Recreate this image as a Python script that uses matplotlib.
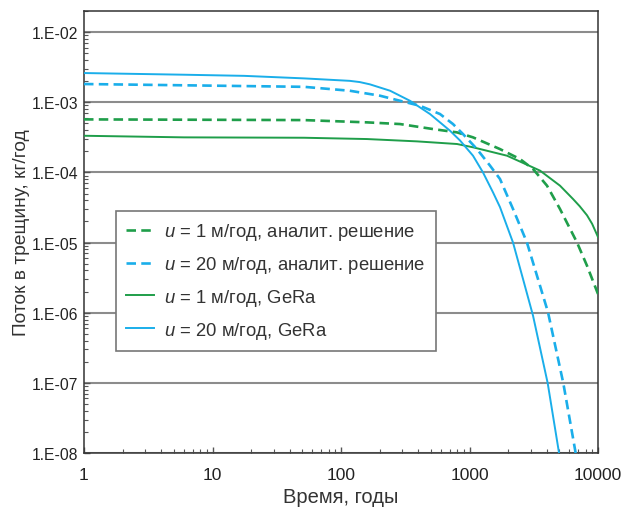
import numpy as np
import matplotlib.pyplot as plt
from matplotlib.ticker import LogLocator, FuncFormatter, NullFormatter

plt.rcParams['font.family'] = ['Liberation Sans', 'DejaVu Sans']
plt.rcParams['mathtext.fontset'] = 'custom'
plt.rcParams['mathtext.it'] = 'Liberation Sans:italic'
plt.rcParams['mathtext.rm'] = 'Liberation Sans'

# Flux into the fracture, kg/year, vs time (years)
t_an1 = [1, 51.5, 159, 288, 520, 800, 1065, 1727, 2472, 3120, 4010, 5060, 6870, 8210, 10000]
q_an1 = [5.70e-4, 5.57e-4, 5.17e-4, 4.89e-4, 4.15e-4, 3.72e-4, 3.16e-4, 2.15e-4, 1.55e-4,
         1.12e-4, 6.47e-5, 3.01e-5, 1.0e-5, 4.68e-6, 1.85e-6]

t_an20 = [1, 51.5, 117, 201, 288, 412, 589, 744, 890, 1143, 1444, 1727, 2181, 2800, 3410,
          4080, 5370, 6700]
q_an20 = [1.82e-3, 1.66e-3, 1.46e-3, 1.24e-3, 1.05e-3, 8.9e-4, 6.8e-4, 4.89e-4, 3.52e-4,
          2.15e-4, 1.25e-4, 8.05e-5, 3.01e-5, 1.0e-5, 3.03e-6, 1.02e-6, 9.9e-8, 1.0e-8]

t_ge1 = [1, 6, 51.5, 159, 390, 800, 1065, 1960, 3540, 5060, 6390, 7200, 8210, 9000, 10000]
q_ge1 = [3.33e-4, 3.16e-4, 3.12e-4, 2.99e-4, 2.77e-4, 2.54e-4, 2.28e-4, 1.73e-4, 1.06e-4,
         6.47e-5, 4.18e-5, 3.3e-5, 2.45e-5, 1.85e-5, 1.2e-5]

t_ge20 = [1, 6, 17.6, 51.5, 117, 140, 168, 241, 344, 493, 705, 844, 1065, 1273, 1524, 1727,
          2181, 2608, 3120, 4060, 4975]
q_ge20 = [2.61e-3, 2.47e-3, 2.38e-3, 2.19e-3, 2.02e-3, 1.94e-3, 1.80e-3, 1.46e-3, 1.05e-3,
          6.79e-4, 3.93e-4, 2.85e-4, 1.73e-4, 1.0e-4, 5.19e-5, 3.2e-5, 1.0e-5, 3.03e-6,
          9.1e-7, 9.9e-8, 1.0e-8]

labels = [r'$u$ = 1 м/год, аналит. решение',
          r'$u$ = 20 м/год, аналит. решение',
          r'$u$ = 1 м/год, GeRa',
          r'$u$ = 20 м/год, GeRa']

green = '#1f9e4a'
blue = '#1aaeea'

fig = plt.figure(figsize=(6.26, 5.10), dpi=100)
ax = fig.add_axes([84/626, 56/510, 514/626, 442/510])

ax.plot(t_an1, q_an1, color=green, lw=1.9, dashes=(3.6, 2.0), label=labels[0], zorder=5)
ax.plot(t_an20, q_an20, color=blue, lw=1.9, dashes=(3.6, 2.0), label=labels[1], zorder=5)
ax.plot(t_ge1, q_ge1, color=green, lw=1.4, label=labels[2], zorder=4)
ax.plot(t_ge20, q_ge20, color=blue, lw=1.4, label=labels[3], zorder=4)

ax.set_xscale('log')
ax.set_yscale('log')
ax.set_xlim(1, 10000)
ax.set_ylim(1e-8, 2e-2)

ax.set_yticks([1e-8, 1e-7, 1e-6, 1e-5, 1e-4, 1e-3, 1e-2])
ax.yaxis.set_major_formatter(FuncFormatter(lambda v, p: '1.E-%02d' % round(-np.log10(v))))
ax.yaxis.set_minor_locator(LogLocator(base=10, subs=np.arange(2, 10), numticks=20))
ax.yaxis.set_minor_formatter(NullFormatter())
ax.set_xticks([1, 10, 100, 1000, 10000])
ax.xaxis.set_major_formatter(FuncFormatter(lambda v, p: '%d' % v))
ax.xaxis.set_minor_locator(LogLocator(base=10, subs=np.arange(2, 10), numticks=20))
ax.xaxis.set_minor_formatter(NullFormatter())

ax.tick_params(which='both', direction='in', color='#555555', top=False, right=False)
ax.tick_params(which='major', length=4, width=1)
ax.tick_params(which='minor', length=3, width=0.8)
ax.tick_params(axis='x', labelsize=12.5, pad=10, labelcolor='#222222')
ax.tick_params(axis='y', labelsize=11.3, pad=4, labelcolor='#222222')

ax.yaxis.grid(True, which='major', color='#8c8c8c', lw=1.5)
ax.set_axisbelow(True)
for s in ax.spines.values():
    s.set_color('#333333')
    s.set_linewidth(1.1)

ax.set_xlabel('Время, годы', fontsize=14.5, color='#333333', labelpad=4)
ax.set_ylabel('Поток в трещину, кг/год', fontsize=13.8, color='#333333', labelpad=1)

leg = ax.legend(loc='upper left', bbox_to_anchor=(116/626, 1 - 212/510),
                bbox_transform=fig.transFigure, borderaxespad=0, fancybox=False,
                framealpha=1, edgecolor='#777777', fontsize=13.3, handlelength=1.5,
                handletextpad=0.55, labelspacing=0.64, borderpad=0.55)
leg.get_frame().set_linewidth(1.2)
for txt in leg.get_texts():
    txt.set_color('#333333')

fig.savefig('out.png', dpi=100)
